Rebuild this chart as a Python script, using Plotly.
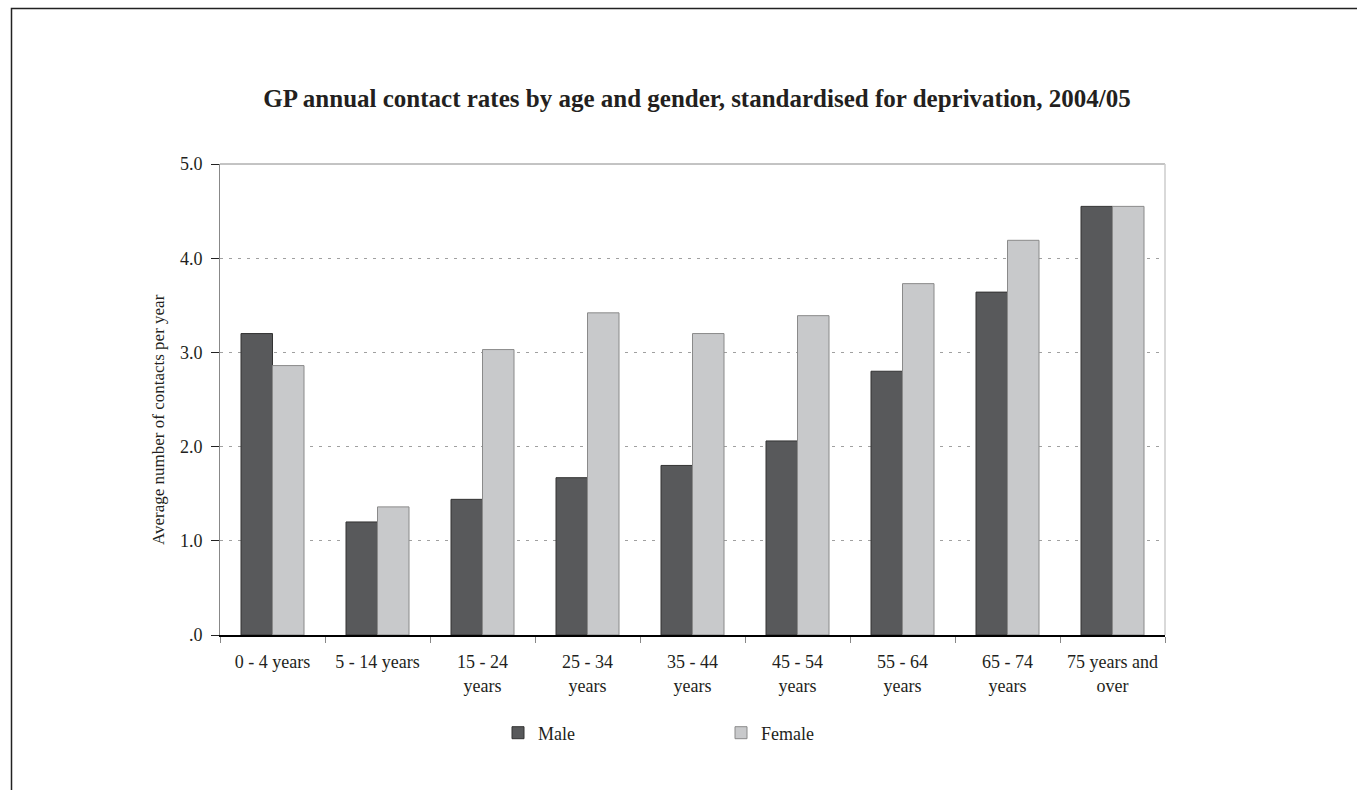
import plotly.graph_objects as go

categories = ["0 - 4 years", "5 - 14 years", "15 - 24<br>years", "25 - 34<br>years",
              "35 - 44<br>years", "45 - 54<br>years", "55 - 64<br>years",
              "65 - 74<br>years", "75 years and<br>over"]
male = [3.20, 1.20, 1.44, 1.67, 1.80, 2.06, 2.80, 3.64, 4.55]
female = [2.86, 1.36, 3.03, 3.42, 3.20, 3.39, 3.73, 4.19, 4.55]
y_tickvals = [0, 1, 2, 3, 4, 5]
y_ticktext = [".0", "1.0", "2.0", "3.0", "4.0", "5.0"]

FONT = "Liberation Serif, Times New Roman, serif"
TXT = "#231f20"

fig = go.Figure()
fig.add_trace(go.Bar(name="Male", x=categories, y=male,
                     marker=dict(color="#58595b", line=dict(color="#333333", width=1))))
fig.add_trace(go.Bar(name="Female", x=categories, y=female,
                     marker=dict(color="#c8c9cb", line=dict(color="#8a8a8a", width=1))))

W, H = 1357, 790
ml, mr, mt, mb = 220, 192, 164, 155
pw, ph = W - ml - mr, H - mt - mb

def px2paper_x(x):
    return (x - ml) / pw

def py2paper_y(y):
    return (H - mb - y) / ph

fig.update_layout(
    width=W, height=H,
    margin=dict(l=ml, r=mr, t=mt, b=mb, pad=0),
    paper_bgcolor="white", plot_bgcolor="white",
    barmode="group", bargap=0.4, bargroupgap=0,
    font=dict(family=FONT, size=18, color=TXT),
    title=dict(text="<b>GP annual contact rates by age and gender, standardised for deprivation, 2004/05</b>",
               x=697 / W, xanchor="center", xref="container",
               y=1 - 98 / H, yanchor="middle", yref="container",
               font=dict(family=FONT, size=25, color=TXT)),
    xaxis=dict(showline=True, linecolor="#000000", linewidth=1.5,
               ticks="outside", tickson="boundaries", ticklen=6, tickcolor="#888888",
               tickfont=dict(family=FONT, size=18, color=TXT),
               ticklabelstandoff=10,
               mirror=False, showgrid=False, fixedrange=True),
    yaxis=dict(range=[0, 5], tickvals=y_tickvals, ticktext=y_ticktext,
               showline=True, linecolor="#888888", linewidth=1,
               ticks="outside", ticklen=8, tickcolor="#222222",
               ticklabelstandoff=5,
               showgrid=True, gridcolor="#a0a0a0", griddash="3px,6px", gridwidth=1,
               zeroline=False,
               tickfont=dict(family=FONT, size=18, color=TXT), fixedrange=True),
    legend=dict(orientation="h", x=px2paper_x(498), xanchor="left",
                y=py2paper_y(733), yanchor="middle",
                entrywidth=178, entrywidthmode="pixels",
                font=dict(family=FONT, size=18, color=TXT),
                itemwidth=30, traceorder="normal"),
    showlegend=True,
)

# y-axis title (placed like the original, slightly below the axis centre)
fig.add_annotation(text="Average number of contacts per year", textangle=-90,
                   xref="paper", yref="paper", x=px2paper_x(158), y=py2paper_y(420),
                   xanchor="center", yanchor="middle", showarrow=False,
                   font=dict(family=FONT, size=17, color=TXT))

# top and right frame of plot area
fig.add_shape(type="line", xref="paper", yref="paper", x0=0, x1=1, y0=1, y1=1,
              line=dict(color="#888888", width=1))
fig.add_shape(type="line", xref="paper", yref="paper", x0=1, x1=1, y0=0, y1=1,
              line=dict(color="#cccccc", width=1.5))
# outer border of the chart area (left and top edges visible)
fig.add_shape(type="rect", xref="paper", yref="paper",
              x0=px2paper_x(11.5), x1=px2paper_x(1370), y0=py2paper_y(8.5), y1=py2paper_y(800),
              line=dict(color="#222222", width=1.5), layer="below")

fig.write_html("out.html")
